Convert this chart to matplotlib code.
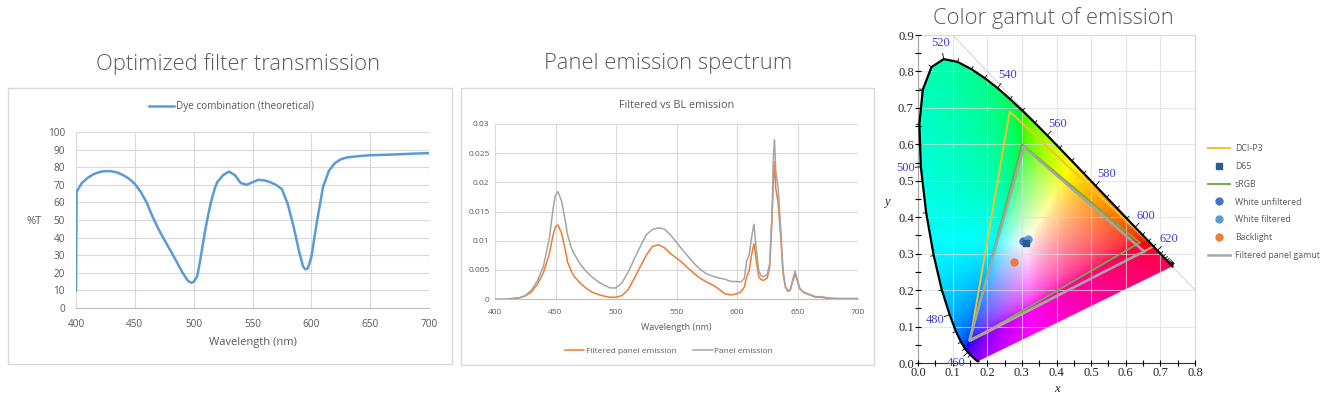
import numpy as np
import matplotlib
matplotlib.use("Agg")
import matplotlib.pyplot as plt
from matplotlib.patches import Rectangle, Polygon
from matplotlib.ticker import FormatStrFormatter

plt.rcParams['font.family'] = ['Open Sans', 'DejaVu Sans']

# ---------------- data: optimized filter transmission (%T)
trans_nm = [400, 400.5, 405, 410, 415, 420, 425, 430, 435, 440, 445, 450, 455, 460, 465,
            470, 475, 480, 485, 490, 495, 498, 500, 503, 505, 508, 510, 513, 515, 518,
            520, 525, 530, 535, 540, 545, 550, 555, 560, 565, 570, 575, 580, 585, 590,
            593, 595, 597, 600, 605, 610, 615, 620, 625, 630, 640, 650, 660, 670, 680,
            690, 700]
trans_pct = [10, 66, 71, 74, 76, 77.3, 77.8, 77.7, 77, 75.5, 73.5, 70.5, 66, 60, 52,
             45, 38.8, 33, 27, 20.7, 15.5, 14.3, 14.8, 18, 25, 37, 45, 55, 61, 68,
             71.5, 75.5, 77.5, 75.5, 71, 70, 71.5, 72.8, 72.5, 71.5, 70, 67.5, 59, 46, 31,
             23.5, 22, 22.5, 29, 50, 69, 78, 82.3, 84.5, 85.5, 86.3, 86.8, 87, 87.2, 87.5,
             87.8, 88]

# ---------------- data: emission spectra
emis_nm = [400, 410, 415, 420, 425, 430, 435, 440, 445, 448, 450, 452, 455, 458, 460,
           463, 465, 470, 475, 480, 485, 490, 495, 500, 505, 510, 515, 520, 525, 530,
           535, 540, 545, 550, 555, 560, 565, 570, 575, 580, 585, 590, 595, 600, 603,
           606, 608, 610, 612, 614, 616, 618, 620, 622, 625, 627, 629, 630, 631, 632,
           634, 636, 638, 640, 642, 644, 646, 648, 650, 652, 655, 660, 665, 670, 675,
           680, 690, 700]
panel_emis = [0, 0, 0.0001, 0.0002, 0.0006, 0.0015, 0.0031, 0.0056, 0.0105, 0.0155, 0.0178, 0.0184, 0.0168, 0.0135, 0.011,
              0.0088, 0.0079, 0.0061, 0.0048, 0.0038, 0.003, 0.0024, 0.0019, 0.0019, 0.0028, 0.0046, 0.0068, 0.009, 0.011, 0.0119,
              0.0122, 0.012, 0.011, 0.0097, 0.0084, 0.0072, 0.006, 0.005, 0.0043, 0.0039, 0.0036, 0.0034, 0.003, 0.003, 0.0029,
              0.0035, 0.0065, 0.0075, 0.0105, 0.0128, 0.0085, 0.0048, 0.004, 0.0038, 0.0042, 0.006, 0.015, 0.024, 0.0273, 0.022,
              0.019, 0.0125, 0.005, 0.0022, 0.0014, 0.0016, 0.0033, 0.0048, 0.0032, 0.0018, 0.0012, 0.0008, 0.0004, 0.0004, 0.0002,
              0.0001, 0.0001, 0.0001]
filtered_emis = [np.nan, 0, 0.0001, 0.0002, 0.0005, 0.0012, 0.0025, 0.0045, 0.0078, 0.011, 0.0124, 0.0127, 0.0113, 0.0085, 0.0063,
                 0.0048, 0.004, 0.0028, 0.0019, 0.0012, 0.0008, 0.0005, 0.0003, 0.0003, 0.0006, 0.0016, 0.0035, 0.0055, 0.0075, 0.009,
                 0.0093, 0.0088, 0.0078, 0.007, 0.0062, 0.0052, 0.0043, 0.0035, 0.0029, 0.0024, 0.0017, 0.0009, 0.0007, 0.0009, 0.0012,
                 0.002, 0.0038, 0.0048, 0.0075, 0.0095, 0.0065, 0.0038, 0.0033, 0.0032, 0.0036, 0.0055, 0.014, 0.02, 0.0235, 0.019,
                 0.0165, 0.011, 0.0045, 0.002, 0.0013, 0.0015, 0.003, 0.0043, 0.003, 0.0017, 0.0011, 0.0007, 0.0003, 0.0003, 0.0001,
                 0.0001, 0.0, 0.0]
emis_ticks = [0, 0.005, 0.01, 0.015, 0.02, 0.025, 0.03]

# ---------------- data: CIE 1931 spectral locus
locus_nm = [380, 390, 400, 410, 420, 425, 430, 435, 440, 445, 450, 455, 460, 465, 470,
            475, 480, 485, 490, 495, 500, 505, 510, 515, 520, 525, 530, 535, 540, 545,
            550, 555, 560, 565, 570, 575, 580, 585, 590, 595, 600, 605, 610, 615, 620,
            625, 630, 635, 640, 645, 650, 655, 660, 665, 670, 680, 700]
locus_x = [0.1741, 0.1738, 0.1733, 0.1726, 0.1714, 0.1703, 0.1689, 0.1669, 0.1644, 0.1611, 0.1566, 0.1510, 0.1440, 0.1355, 0.1241,
           0.1096, 0.0913, 0.0687, 0.0454, 0.0235, 0.0082, 0.0039, 0.0139, 0.0389, 0.0743, 0.1142, 0.1547, 0.1929, 0.2296, 0.2658,
           0.3016, 0.3373, 0.3731, 0.4087, 0.4441, 0.4788, 0.5125, 0.5448, 0.5752, 0.6029, 0.6270, 0.6482, 0.6658, 0.6801, 0.6915,
           0.7006, 0.7079, 0.7140, 0.7190, 0.7230, 0.7260, 0.7283, 0.7300, 0.7311, 0.7320, 0.7334, 0.7347]
locus_y = [0.0050, 0.0049, 0.0048, 0.0048, 0.0051, 0.0058, 0.0069, 0.0086, 0.0109, 0.0138, 0.0177, 0.0227, 0.0297, 0.0399, 0.0578,
           0.0868, 0.1327, 0.2007, 0.2950, 0.4127, 0.5384, 0.6548, 0.7502, 0.8120, 0.8338, 0.8262, 0.8059, 0.7816, 0.7543, 0.7243,
           0.6923, 0.6589, 0.6245, 0.5896, 0.5547, 0.5202, 0.4866, 0.4544, 0.4242, 0.3965, 0.3725, 0.3514, 0.3340, 0.3197, 0.3083,
           0.2993, 0.2920, 0.2859, 0.2809, 0.2770, 0.2740, 0.2717, 0.2700, 0.2689, 0.2680, 0.2666, 0.2653]
label_nm = [460, 480, 500, 520, 540, 560, 580, 600, 620]

# gamut triangles (x, y of R, G, B, closed)
dci_x = [0.680, 0.265, 0.150, 0.680]
dci_y = [0.320, 0.690, 0.060, 0.320]
srgb_x = [0.640, 0.300, 0.150, 0.640]
srgb_y = [0.330, 0.600, 0.060, 0.330]
panel_x = [0.653, 0.306, 0.148, 0.653]
panel_y = [0.306, 0.593, 0.062, 0.306]

# white / backlight points
d65_xy = (0.3127, 0.3290)
white_unf_xy = (0.302, 0.336)
white_fil_xy = (0.317, 0.339)
backlight_xy = (0.278, 0.276)

W, H = 1326, 397
fig = plt.figure(figsize=(W / 100, H / 100), dpi=100)
GRAY_TXT = '#595959'
GRID = '#d9d9d9'

# chart frames
fig.add_artist(Rectangle((8 / W, 1 - 364 / H), 444 / W, 276 / H, transform=fig.transFigure,
                         fill=False, ec=GRID, lw=1))
fig.add_artist(Rectangle((461 / W, 1 - 365 / H), 413 / W, 277 / H, transform=fig.transFigure,
                         fill=False, ec=GRID, lw=1))

# titles
title_kw = dict(fontsize=15.8, color='#5a5a5a', ha='center', va='center', fontweight='light')
fig.text(238 / W, 1 - 64 / H, 'Optimized filter transmission', **title_kw)
fig.text(668 / W, 1 - 63 / H, 'Panel emission spectrum', **title_kw)
fig.text(1053 / W, 1 - 18 / H, 'Color gamut of emission', **title_kw)

# ---------------- chart 1
ax1 = fig.add_axes([76 / W, 1 - 308 / H, 353 / W, 176 / H])
l1, = ax1.plot(trans_nm, trans_pct, color='#5b9bd5', lw=1.8, label='Dye combination (theoretical)')
ax1.set_xlim(400, 700)
ax1.set_ylim(0, 100)
ax1.set_xticks(range(400, 701, 50))
ax1.set_yticks(range(0, 101, 10))
ax1.grid(color=GRID, lw=0.8)
ax1.set_axisbelow(True)
for s in ['top', 'right', 'left']:
    ax1.spines[s].set_visible(False)
ax1.spines['bottom'].set_color('#bfbfbf')
ax1.tick_params(axis='both', length=0, labelsize=7.2, labelcolor=GRAY_TXT)
ax1.tick_params(axis='x', pad=8)
ax1.tick_params(axis='y', pad=8)
ax1.set_xlabel('Wavelength (nm)', fontsize=8, color=GRAY_TXT)
ax1.xaxis.set_label_coords(0.5, (308 - 342) / 176)
ax1.xaxis.label.set_va('center')
ax1.set_ylabel('%T', fontsize=8, color=GRAY_TXT, rotation=0)
ax1.yaxis.set_label_coords((34 - 76) / 353, (308 - 222) / 176)
ax1.yaxis.label.set_va('center')
ax1.yaxis.label.set_ha('center')
fig.legend(handles=[l1], loc='center', bbox_to_anchor=(232 / W, 1 - 107 / H), frameon=False,
           fontsize=7.2, labelcolor=GRAY_TXT, handlelength=2.5, handletextpad=0.2)

# ---------------- chart 2
ax2 = fig.add_axes([495 / W, 1 - 299 / H, 363 / W, 175 / H])
l2, = ax2.plot(emis_nm, filtered_emis, color='#ed7d31', lw=1.1, label='Filtered panel emission')
l3, = ax2.plot(emis_nm, panel_emis, color='#a5a5a5', lw=1.1, label='Panel emission')
ax2.set_xlim(400, 700)
ax2.set_ylim(0, 0.03)
ax2.set_xticks(range(400, 701, 50))
ax2.set_yticks(emis_ticks)
ax2.set_yticklabels(['{:g}'.format(v) for v in emis_ticks])
ax2.grid(color=GRID, lw=0.8)
ax2.set_axisbelow(True)
for s in ['top', 'right', 'left']:
    ax2.spines[s].set_visible(False)
ax2.spines['bottom'].set_color('#bfbfbf')
ax2.tick_params(axis='both', length=0, labelsize=6, labelcolor=GRAY_TXT)
ax2.tick_params(axis='x', pad=7)
ax2.tick_params(axis='y', pad=4)
ax2.set_xlabel('Wavelength (nm)', fontsize=6.5, color=GRAY_TXT)
ax2.xaxis.set_label_coords(0.5, (299 - 327) / 175)
ax2.xaxis.label.set_va('center')
ax2.text(0.5, (299 - 105) / 175, 'Filtered vs BL emission', transform=ax2.transAxes,
         ha='center', va='center', fontsize=7.8, color=GRAY_TXT)
fig.legend(handles=[l2, l3], loc='center', bbox_to_anchor=(669 / W, 1 - 351 / H), ncol=2,
           frameon=False, fontsize=6, labelcolor=GRAY_TXT, handlelength=2.3,
           handletextpad=0.2, columnspacing=2.0)

# ---------------- chart 3: CIE 1931 chromaticity diagram
ax3 = fig.add_axes([918 / W, 1 - 363 / H, 277 / W, 328 / H])
ax3.set_xlim(0, 0.8)
ax3.set_ylim(0, 0.9)

lx = np.array(locus_x)
ly = np.array(locus_y)
locus_patch = Polygon(np.column_stack([lx, ly]), closed=True, fc='none', ec='none',
                      transform=ax3.transData)
ax3.add_patch(locus_patch)

# colour fill of the horseshoe (xy -> XYZ -> sRGB, out-of-gamut desaturated with white)
gx, gy = np.meshgrid(np.linspace(0, 0.8, 400), np.linspace(0.002, 0.9, 450))
XYZ = np.stack([gx / gy, np.ones_like(gx), (1 - gx - gy) / gy], axis=-1)
M = np.array([[3.2406, -1.5372, -0.4986],
              [-0.9689, 1.8758, 0.0415],
              [0.0557, -0.2040, 1.0570]])
rgb = XYZ @ M.T
rgb = rgb - np.minimum(rgb.min(axis=-1, keepdims=True), 0)
rgb = rgb / np.maximum(rgb.max(axis=-1, keepdims=True), 1e-9)
rgb = np.clip(rgb, 0, 1) ** (1 / 2.2)
im = ax3.imshow(rgb, extent=(0, 0.8, 0.002, 0.9), origin='lower', aspect='auto',
                interpolation='bilinear', zorder=0)
im.set_clip_path(locus_patch)

ax3.plot(lx, ly, color='black', lw=1.6, zorder=4)
ax3.axline((0, 1), slope=-1, color='#d8d8d8', lw=0.8, zorder=0.5)

# wavelength ticks and labels on the locus
for i, nm in enumerate(locus_nm):
    if nm < 455 or nm > 680:
        continue
    tx = lx[i + 1] - lx[i - 1]
    ty = ly[i + 1] - ly[i - 1]
    n = np.array([ty, -tx]) / np.hypot(tx, ty)
    if np.dot(n, [lx[i] - 0.33, ly[i] - 0.33]) < 0:
        n = -n
    L = 0.016 if nm in label_nm else 0.009
    ax3.plot([lx[i], lx[i] + n[0] * L], [ly[i], ly[i] + n[1] * L], color='black', lw=0.6,
             zorder=4, clip_on=False)
    if nm in label_nm:
        ax3.text(lx[i] + n[0] * 0.045, ly[i] + n[1] * 0.045, str(nm), ha='center', va='center',
                 fontsize=9, color='#3b3bd6', family='Liberation Serif', zorder=5)

p1, = ax3.plot(dci_x, dci_y, color='#f2c12e', lw=1.4, zorder=3, label='DCI-P3')
p3, = ax3.plot(srgb_x, srgb_y, color='#70ad47', lw=1.4, zorder=3, label='sRGB')
p7, = ax3.plot(panel_x, panel_y, color='#a5a5a5', lw=1.8, zorder=3, label='Filtered panel gamut')
p4, = ax3.plot(*white_unf_xy, 'o', color='#4472c4', ms=5, zorder=5, label='White unfiltered')
p5, = ax3.plot(*white_fil_xy, 'o', color='#5b9bd5', ms=5, zorder=5, label='White filtered')
p2, = ax3.plot(*d65_xy, 's', color='#255e91', ms=5, zorder=6, label='D65')
p6, = ax3.plot(*backlight_xy, 'o', color='#ed7d31', ms=5, zorder=5, label='Backlight')

ax3.set_xticks(np.arange(0, 0.81, 0.1))
ax3.set_yticks(np.arange(0, 0.91, 0.1))
ax3.set_xticks(np.arange(0.05, 0.8, 0.1), minor=True)
ax3.set_yticks(np.arange(0.05, 0.9, 0.1), minor=True)
ax3.xaxis.set_major_formatter(FormatStrFormatter('%.1f'))
ax3.yaxis.set_major_formatter(FormatStrFormatter('%.1f'))
ax3.grid(color='#dcdcdc', lw=0.8, alpha=0.7, zorder=1)
ax3.set_axisbelow(False)
ax3.tick_params(which='both', direction='inout', length=4, width=0.8, labelsize=9,
                labelcolor='#222222', labelfontfamily='Liberation Serif', pad=1)
for s in ['top', 'right']:
    ax3.spines[s].set_color('#d8d8d8')
for s in ['left', 'bottom']:
    ax3.spines[s].set_color('#333333')
ax3.set_xlabel('x', fontsize=9, family='Liberation Serif', style='italic', color='#222222')
ax3.xaxis.set_label_coords(0.5, (363 - 389) / 328)
ax3.xaxis.label.set_va('center')
ax3.set_ylabel('y', fontsize=9, family='Liberation Serif', style='italic', color='#222222',
               rotation=0)
ax3.yaxis.set_label_coords((887 - 918) / 277, (363 - 202) / 328)
ax3.yaxis.label.set_va('center')

fig.legend(handles=[p1, p2, p3, p4, p5, p6, p7], loc='center left',
           bbox_to_anchor=(1200 / W, 1 - 202 / H), frameon=False, fontsize=6.3,
           labelcolor=GRAY_TXT, handlelength=2.5, handletextpad=0.6, labelspacing=1.0)

fig.savefig('out.png', dpi=100)
